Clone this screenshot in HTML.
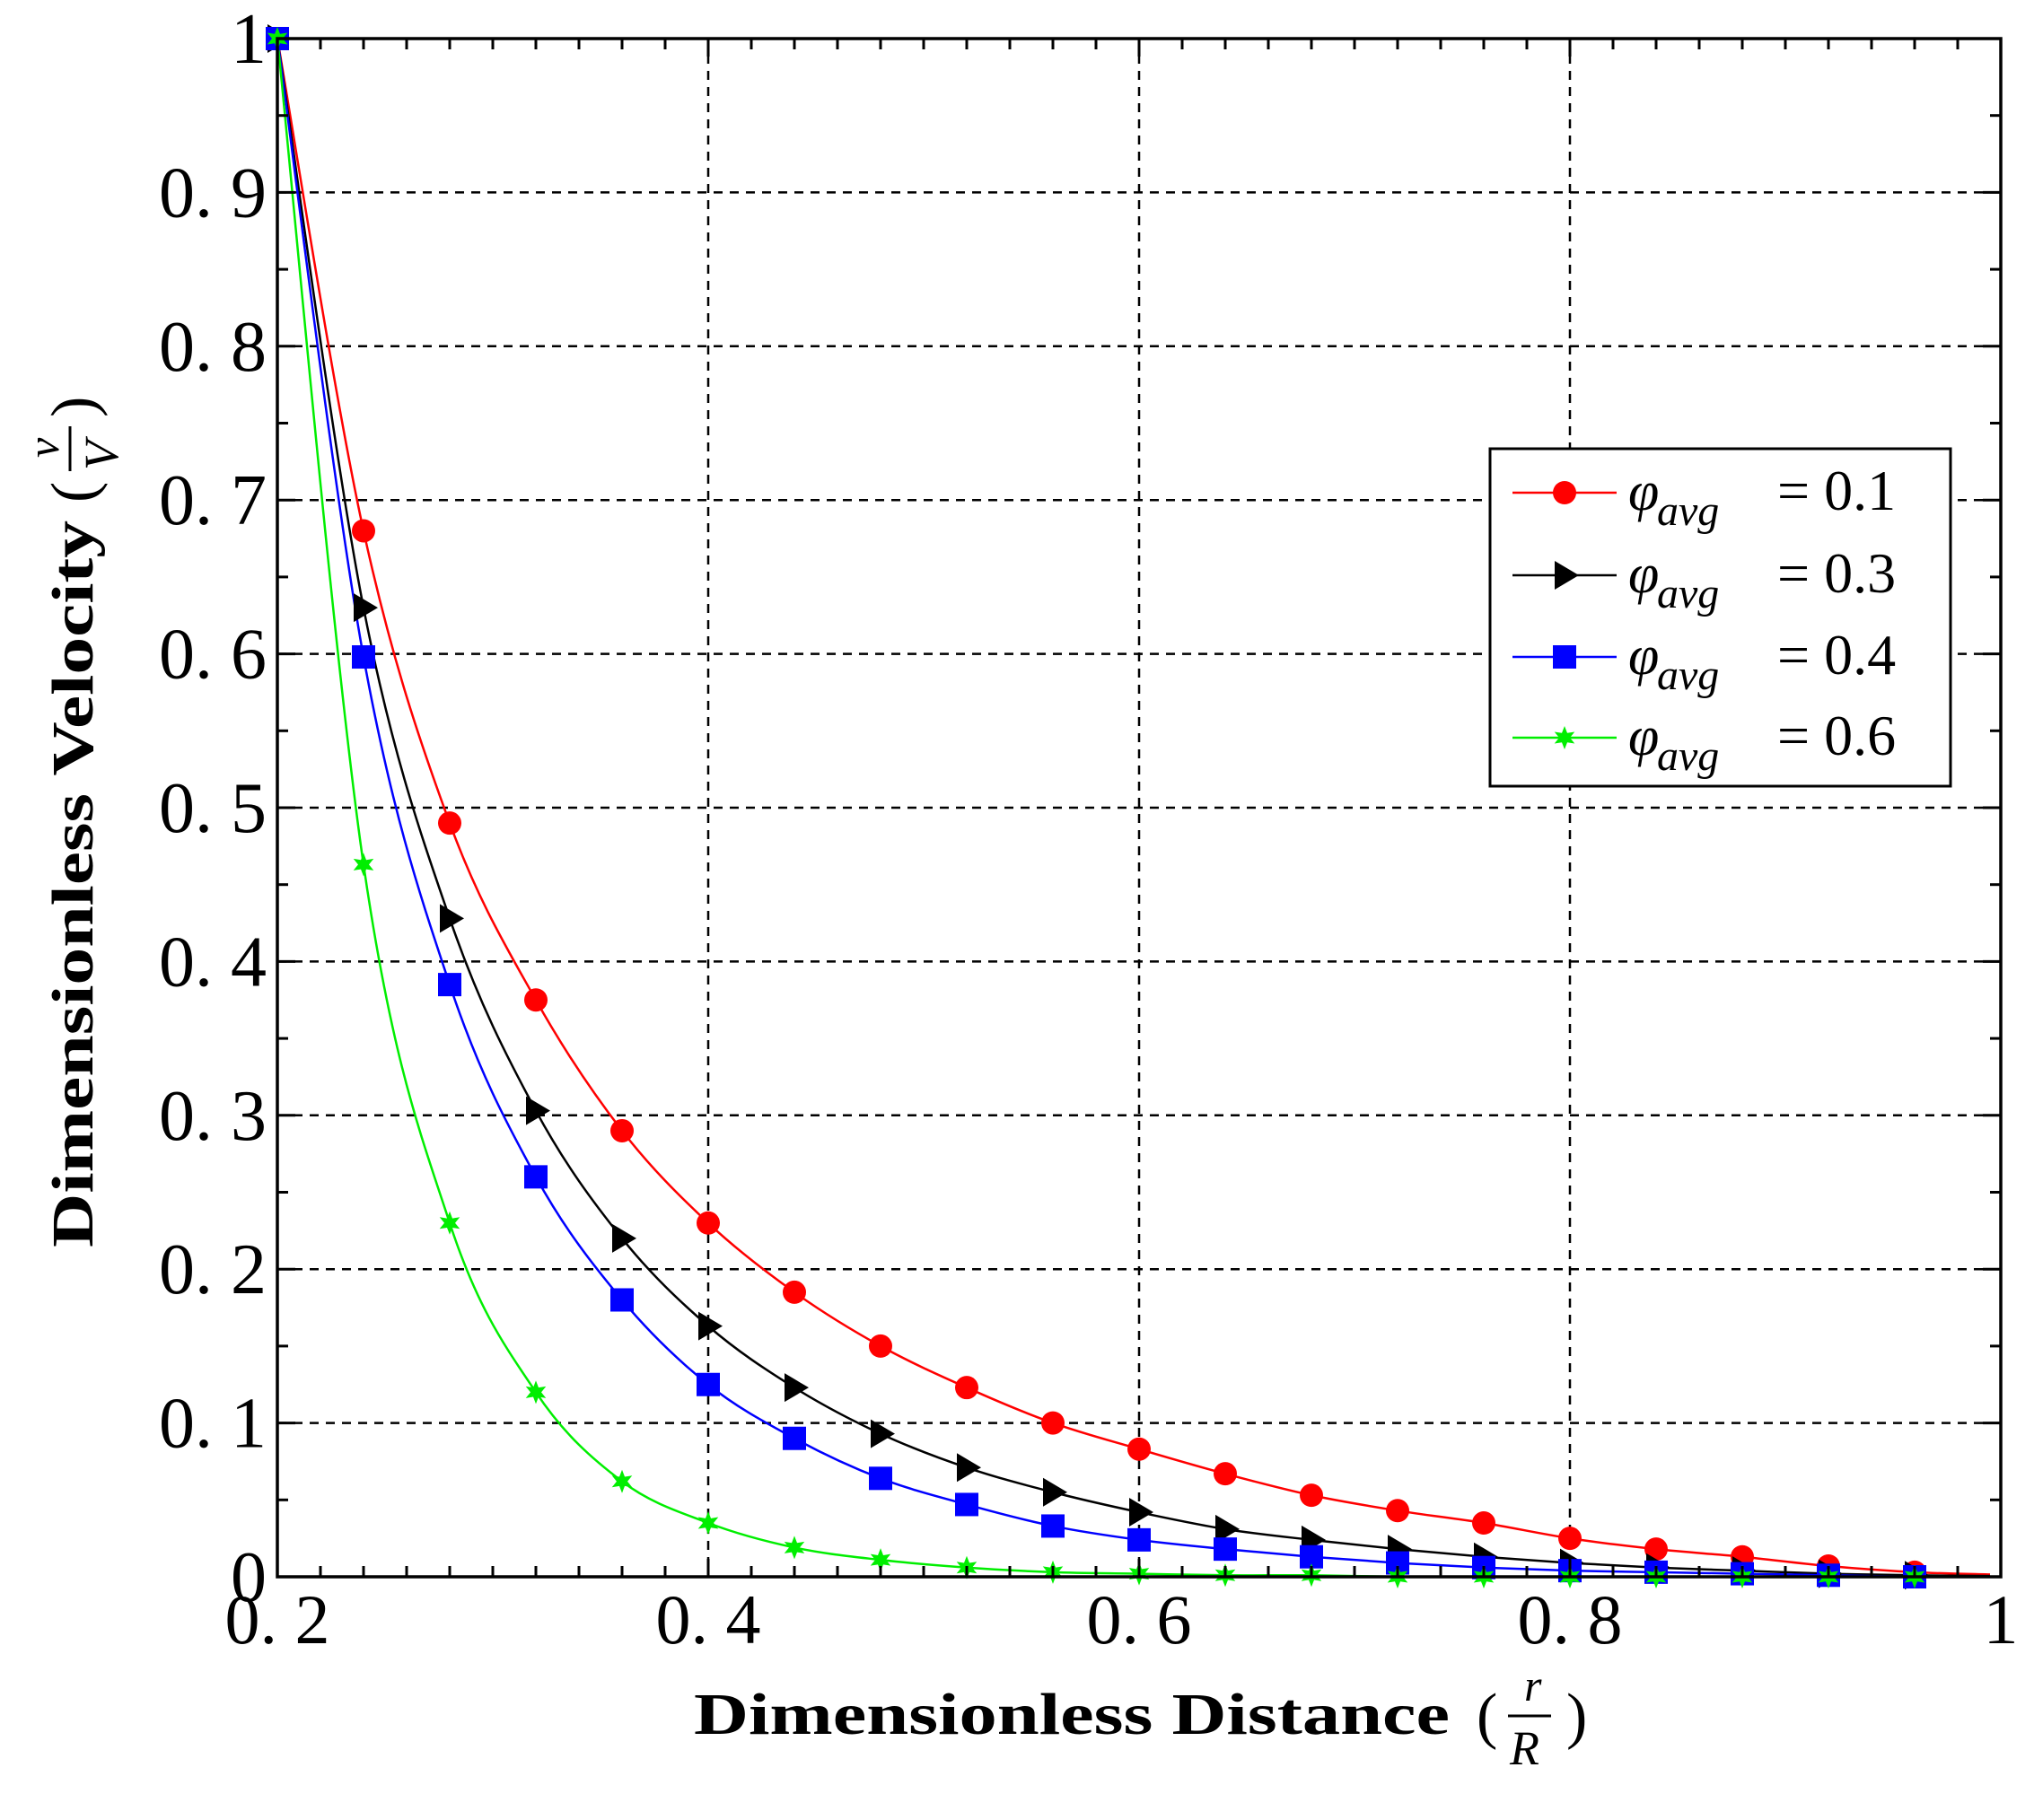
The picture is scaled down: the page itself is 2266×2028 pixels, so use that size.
<!DOCTYPE html>
<html><head><meta charset="utf-8"><style>
html,body{margin:0;padding:0;background:#fff;}
svg{display:block;}
text{font-family:"Liberation Serif",serif;}
</style></head><body>
<svg id="s" width="2266" height="2028" xmlns="http://www.w3.org/2000/svg">
<rect width="2266" height="2028" fill="#fff"/>
<g id="grid"></g>
<g id="series"></g>
<g id="axes"></g>
<rect x="1660" y="500" width="513" height="376" fill="#fff" stroke="#000" stroke-width="3"/>
<g id="leg"></g>
<g font-size="62">
<text x="1814" y="568" font-style="italic">φ</text><text x="1846" y="585" font-style="italic" font-size="48">avg</text><text x="1980" y="568" font-size="64">= 0.1</text>
<text x="1814" y="660" font-style="italic">φ</text><text x="1846" y="677" font-style="italic" font-size="48">avg</text><text x="1980" y="660" font-size="64">= 0.3</text>
<text x="1814" y="751" font-style="italic">φ</text><text x="1846" y="768" font-style="italic" font-size="48">avg</text><text x="1980" y="751" font-size="64">= 0.4</text>
<text x="1814" y="841" font-style="italic">φ</text><text x="1846" y="858" font-style="italic" font-size="48">avg</text><text x="1980" y="841" font-size="64">= 0.6</text>
</g>
<text x="773" y="1932" font-size="66" font-weight="bold" textLength="842" lengthAdjust="spacingAndGlyphs">Dimensionless Distance</text>
<text x="1645" y="1935" font-size="70">(</text>
<text x="1698" y="1895" font-size="50" font-style="italic">r</text>
<line x1="1680" y1="1912" x2="1728" y2="1912" stroke="#000" stroke-width="3"/>
<text x="1682" y="1966" font-size="54" font-style="italic">R</text>
<text x="1745" y="1935" font-size="70">)</text>
<g transform="translate(103,1390) rotate(-90)">
<text x="0" y="0" font-size="66" font-weight="bold" textLength="810" lengthAdjust="spacingAndGlyphs">Dimensionless Velocity</text>
<text x="830" y="2" font-size="70">(</text>
<text x="880" y="-38" font-size="50" font-style="italic">v</text>
<line x1="865" y1="-25" x2="915" y2="-25" stroke="#000" stroke-width="3"/>
<text x="866" y="28" font-size="54" font-style="italic">V</text>
<text x="925" y="2" font-size="70">)</text>
</g>
</svg>
<script>
var NS="http://www.w3.org/2000/svg";
var L=309,R=2229,T=43,B=1757;
function X(x){return L+(x-0.2)/0.8*(R-L);}
function Y(y){return B-y*(B-T);}
function el(p,tag,a){var e=document.createElementNS(NS,tag);for(var k in a)e.setAttribute(k,a[k]);p.appendChild(e);return e;}
var g=document.getElementById('grid'),ax=document.getElementById('axes'),s=document.getElementById('s');
[0.4,0.6,0.8].forEach(function(v){el(g,'line',{x1:X(v),x2:X(v),y1:T,y2:B,stroke:'#000','stroke-width':2.5,'stroke-dasharray':'10 8'});});
for(var i=1;i<10;i++){var v=i/10;el(g,'line',{x1:L,x2:R,y1:Y(v),y2:Y(v),stroke:'#000','stroke-width':2.5,'stroke-dasharray':'10 8'});}
el(ax,'rect',{x:L,y:T,width:R-L,height:B-T,fill:'none',stroke:'#000','stroke-width':3.5});
for(var i=0;i<=40;i++){var x=X(0.2+i*0.02),len=(i%10==0)?20:12;
 el(ax,'line',{x1:x,x2:x,y1:B,y2:B-len,stroke:'#000','stroke-width':3});
 el(ax,'line',{x1:x,x2:x,y1:T,y2:T+len,stroke:'#000','stroke-width':3});}
for(var i=0;i<=20;i++){var y=Y(i*0.05),len=(i%2==0)?20:12;
 el(ax,'line',{x1:L,x2:L+len,y1:y,y2:y,stroke:'#000','stroke-width':3});
 el(ax,'line',{x1:R,x2:R-len,y1:y,y2:y,stroke:'#000','stroke-width':3});}
var xl=[['0. 2',0.2],['0. 4',0.4],['0. 6',0.6],['0. 8',0.8],['1',1]];
xl.forEach(function(a){var t=el(s,'text',{x:X(a[1]),y:1831,'font-size':78,'text-anchor':'middle'});t.textContent=a[0];});
for(var i=0;i<=10;i++){var lab=i==10?'1':(i==0?'0':'0. '+i);var t=el(s,'text',{x:L-12,y:Y(i/10)+27,'font-size':80,'text-anchor':'end'});t.textContent=lab;}
var xs=[];for(var i=0;i<20;i++)xs.push(0.2+0.04*i);
var data={
red:[1,0.68,0.49,0.375,0.29,0.23,0.185,0.15,0.123,0.10,0.083,0.067,0.053,0.043,0.035,0.025,0.018,0.013,0.007,0.003],
black:[1,0.63,0.428,0.303,0.22,0.163,0.123,0.093,0.071,0.055,0.042,0.031,0.024,0.018,0.013,0.009,0.006,0.004,0.002,0.001],
blue:[1,0.598,0.385,0.26,0.18,0.125,0.09,0.064,0.047,0.033,0.024,0.018,0.013,0.009,0.006,0.004,0.003,0.002,0.001,0],
lime:[1,0.463,0.23,0.12,0.062,0.035,0.019,0.011,0.006,0.003,0.002,0.001,0.001,0,0,0,0,0,0,0]};
var col={red:'#ff0000',black:'#000',blue:'#0000ff',lime:'#00ee00'};
var sg=document.getElementById('series');
function pathOf(pts){var d='M'+pts[0][0]+','+pts[0][1];
 for(var i=0;i<pts.length-1;i++){var p0=pts[Math.max(0,i-1)],p1=pts[i],p2=pts[i+1],p3=pts[Math.min(pts.length-1,i+2)];
  d+=' C'+(p1[0]+(p2[0]-p0[0])/6)+','+(p1[1]+(p2[1]-p0[1])/6)+' '+(p2[0]-(p3[0]-p1[0])/6)+','+(p2[1]-(p3[1]-p1[1])/6)+' '+p2[0]+','+p2[1];}
 return d;}
function marker(p,k,x,y){var c=col[k];
 if(k=='red')el(p,'circle',{cx:x,cy:y,r:13,fill:c});
 else if(k=='black')el(p,'polygon',{points:(x-11)+','+(y-16)+' '+(x+16)+','+y+' '+(x-11)+','+(y+16),fill:c});
 else if(k=='blue')el(p,'rect',{x:x-13,y:y-13,width:26,height:26,fill:c});
 else{el(p,'polygon',{points:[0,1,2,3,4,5,6,7,8,9,10,11].map(function(j){var a=j*Math.PI/6-Math.PI/2,r=j%2?6:13;return (x+r*Math.cos(a))+','+(y+r*Math.sin(a));}).join(' '),fill:c});}
}
['red','black','blue','lime'].forEach(function(k){
 var pts=xs.map(function(x,i){return [X(x),Y(data[k][i])];});
 pts.push([X(0.995),Y(Math.max(0,data[k][19]*0.5))]);
 el(sg,'path',{d:pathOf(pts),fill:'none',stroke:col[k],'stroke-width':2.5});
});
['red','black','blue','lime'].forEach(function(k){xs.forEach(function(x,i){marker(sg,k,X(x),Y(data[k][i]));});});
var lg=document.getElementById('leg');var ly={red:549,black:641,blue:732,lime:822};
['red','black','blue','lime'].forEach(function(k){el(lg,'line',{x1:1685,x2:1801,y1:ly[k],y2:ly[k],stroke:col[k],'stroke-width':2.5});marker(lg,k,1743,ly[k]);});
</script>
</body></html>
